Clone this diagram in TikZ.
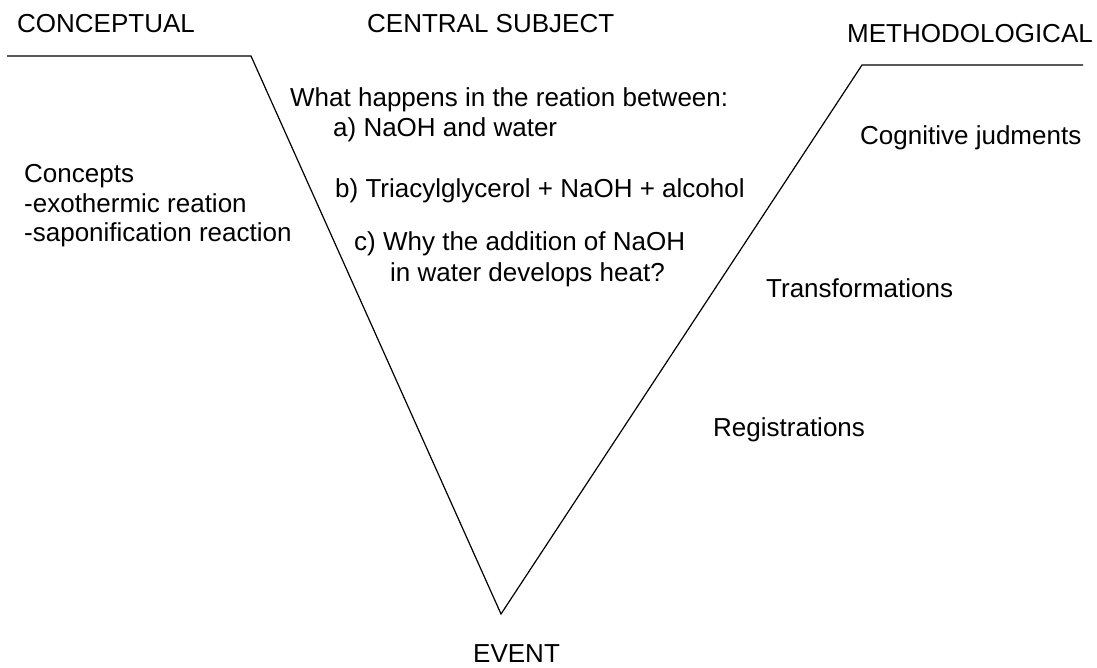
\documentclass[tikz,border=0pt]{standalone}
\usepackage{fontspec}
\setmainfont{Liberation Sans}
\begin{document}
\begin{tikzpicture}[x=1pt,y=-1pt,
  lbl/.style={anchor=base west,inner sep=0pt,font=\fontsize{26}{30}\selectfont},
  vline/.style={draw=black,line width=1.2pt,line join=miter}]
\useasboundingbox (0,0) rectangle (1097,668);
\coordinate (tl) at (7,56);
\coordinate (tm) at (251,56);
\coordinate (apex) at (501,614);
\coordinate (rm) at (862,65);
\coordinate (tr) at (1083,65);
\draw[vline] (tl) -- (tm) -- (apex) -- (rm) -- (tr);
\node[lbl] (conc) at (17,33) {CONCEPTUAL};
\node[lbl] (cent) at (367,33) {CENTRAL SUBJECT};
\node[lbl] (meth) at (847,43) {METHODOLOGICAL};
\node[lbl] (q0) at (290,107) {What happens in the reation between:};
\node[lbl] (qa) at (333,137) {a) NaOH and water};
\node[lbl] (qb) at (335,198) {b) Triacylglycerol + NaOH + alcohol};
\node[lbl] (qc) at (354,251) {c) Why the addition of NaOH};
\node[lbl] (qd) at (390,282) {in water develops heat?};
\node[lbl] (c1) at (24,183) {Concepts};
\node[lbl] (c2) at (24,213) {-exothermic reation};
\node[lbl] (c3) at (24,242) {-saponification reaction};
\node[lbl] (cog) at (860,145) {Cognitive judments};
\node[lbl] (tra) at (766,298) {Transformations};
\node[lbl] (reg) at (713,436) {Registrations};
\node[lbl] (ev) at (473,662) {EVENT};
\end{tikzpicture}
\end{document}
